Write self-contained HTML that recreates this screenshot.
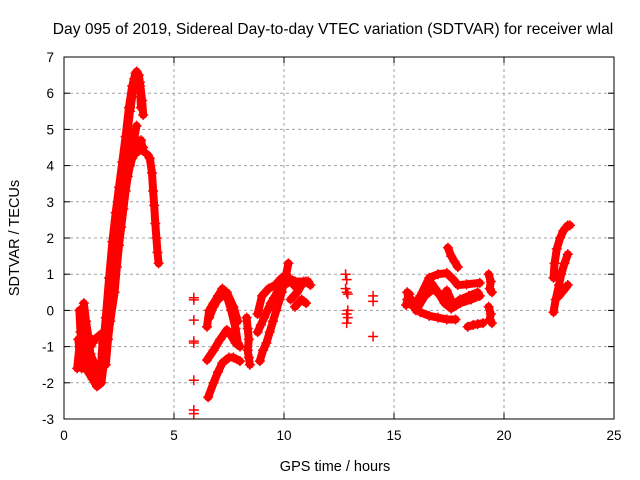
<!DOCTYPE html>
<html><head><meta charset="utf-8"><style>
body{margin:0;background:#fff}
svg{display:block;font-family:"Liberation Sans",sans-serif}
</style></head><body>
<svg id="chart" width="640" height="480">
<text x="333" y="34" text-anchor="middle" font-size="15.6">Day 095 of 2019, Sidereal Day-to-day VTEC variation (SDTVAR) for receiver wlal</text>
<text x="335" y="471" text-anchor="middle" font-size="14.5">GPS time / hours</text>
<text transform="translate(19,238) rotate(-90)" text-anchor="middle" font-size="14.5">SDTVAR / TECUs</text>
<g id="grid"></g>
<g id="ticks"></g>
<g id="marks"></g>
<rect x="64" y="57" width="550" height="362" fill="none" stroke="#000" stroke-width="1"/>
</svg>
<script>
const xTicks=[0,5,10,15,20,25];
const yTicks=[-3,-2,-1,0,1,2,3,4,5,6,7];
// tracks: [hour, value]
const trackA1=[[0.7,0.0],[0.75,-0.6],[0.8,-1.2],[0.9,-1.5],[1.1,-1.7],[1.3,-1.9],[1.5,-2.1],[1.7,-2.0],[1.8,-1.5],[1.9,-0.8]];
const trackA2=[[0.6,-1.6],[0.7,-1.0],[0.8,-1.6],[1.0,-1.4],[1.2,-1.0],[1.4,-0.8],[1.6,-0.7],[1.8,-0.6]];
const trackA3=[[0.9,0.2],[1.0,-0.3],[1.1,-0.7],[1.2,-1.2],[1.4,-1.5]];
const trackA4=[[0.65,-0.8],[0.75,-1.3],[0.9,-1.0],[1.1,-1.3],[1.3,-1.6],[1.5,-1.7],[1.7,-1.4],[1.75,-0.9]];
const trackR1=[[1.6,-1.8],[1.8,-1.0],[2.0,0.0],[2.15,1.0],[2.3,2.0],[2.45,2.8],[2.6,3.5],[2.75,4.3],[2.9,5.0],[3.0,5.6],[3.1,6.0],[3.2,6.4],[3.3,6.6],[3.4,6.5],[3.45,6.3],[3.55,5.8],[3.6,5.4]];
const trackR2=[[1.9,-1.5],[2.0,-0.8],[2.1,-0.3],[2.3,0.5],[2.4,1.2],[2.5,1.8],[2.6,2.3],[2.7,2.8],[2.8,3.3],[2.9,3.7],[3.0,4.0],[3.1,4.2],[3.3,4.4],[3.5,4.7],[3.6,4.4]];
const trackR3=[[2.0,0.0],[2.1,0.8],[2.2,1.5],[2.3,2.0],[2.4,2.5],[2.5,2.9],[2.6,3.3],[2.7,3.9],[2.8,4.4],[2.9,5.0],[3.0,5.5],[3.1,5.9]];
const trackR4=[[2.8,3.6],[2.95,4.0],[3.1,4.4],[3.2,4.8],[3.3,5.1]];
const trackR5=[[1.75,-1.2],[1.9,-0.2],[2.05,0.9],[2.2,1.9],[2.35,2.7],[2.5,3.4],[2.65,4.1],[2.8,4.8],[2.95,5.6],[3.1,6.2],[3.25,6.55],[3.45,6.2],[3.5,5.6]];
const trackR6=[[2.1,0.2],[2.25,0.9],[2.4,1.6],[2.55,2.4],[2.7,3.1],[2.85,3.8],[3.0,4.3],[3.2,4.6],[3.4,4.4],[3.6,4.5]];
const trackB=[[3.8,4.3],[3.9,4.2],[4.0,3.8],[4.05,3.3],[4.1,2.9],[4.15,2.4],[4.2,2.0],[4.25,1.6],[4.3,1.3]];
const trackM1=[[6.55,-2.4],[6.8,-2.0],[7.0,-1.7],[7.2,-1.45],[7.5,-1.3],[7.7,-1.3],[8.0,-1.4]];
const trackM2=[[6.5,-1.37],[6.8,-1.1],[7.1,-0.8],[7.4,-0.54],[7.6,-0.7],[7.8,-0.9],[8.0,-1.0]];
const trackM3=[[6.5,-0.45],[6.6,0.0],[6.8,0.2],[7.0,0.4],[7.2,0.6],[7.4,0.4],[7.6,0.0],[7.8,-0.5],[7.9,-0.9]];
const trackM3b=[[6.6,-0.2],[6.8,0.1],[7.0,0.3],[7.4,0.5],[7.7,0.1],[7.9,-0.3]];
const trackM8=[[8.3,-0.2],[8.35,-0.5],[8.4,-0.8],[8.35,-1.1],[8.4,-1.3],[8.45,-1.5]];
const trackM4=[[8.9,-1.4],[9.05,-1.1],[9.2,-0.9],[9.35,-0.6],[9.5,-0.3],[9.65,0.0],[9.8,0.3],[9.9,0.5],[10.0,0.8],[10.1,1.0],[10.2,1.3]];
const trackM5=[[8.8,-0.6],[8.95,-0.4],[9.1,-0.2],[9.25,0.0],[9.4,0.2],[9.55,0.35],[9.7,0.5],[9.85,0.6],[10.0,0.7],[10.3,0.8],[10.6,0.6]];
const trackM6=[[8.8,-0.1],[9.0,0.4],[9.3,0.6],[9.6,0.7],[9.9,0.9],[10.2,0.9],[10.5,0.8],[10.9,0.8],[11.1,0.8]];
const trackM7=[[10.3,0.3],[10.6,0.5],[10.8,0.7],[11.0,0.8],[11.2,0.7]];
const trackM9=[[10.5,0.1],[10.8,0.3],[11.0,0.2]];
const trackP1=[[15.6,0.5],[15.7,0.2],[15.9,0.1],[16.2,0.4],[16.6,0.9],[17.0,1.0],[17.4,1.03],[17.7,0.85],[17.9,0.7],[18.3,0.72],[18.9,0.76]];
const trackP2=[[15.8,0.3],[16.0,0.05],[16.2,-0.05],[16.6,-0.15],[17.0,-0.2],[17.4,-0.25],[17.8,-0.25]];
const trackP3=[[16.0,0.0],[16.4,0.4],[16.8,0.6],[17.2,0.35],[17.4,0.55],[17.7,0.15],[18.0,0.3],[18.4,0.4],[18.8,0.5]];
const trackP4=[[15.9,0.1],[16.3,0.5],[16.7,0.75],[17.0,0.5],[17.3,0.2],[17.6,0.05],[18.0,0.2],[18.5,0.3],[18.9,0.4]];
const trackP5=[[17.45,1.73],[17.6,1.5],[17.75,1.35],[17.9,1.2]];
const trackP6=[[18.35,-0.45],[18.6,-0.4],[18.8,-0.38],[19.05,-0.35]];
const trackP7=[[19.3,1.0],[19.4,0.8],[19.35,0.6],[19.45,0.5]];
const trackP8=[[19.3,0.1],[19.4,-0.1],[19.35,-0.25],[19.45,-0.35]];
const trackT1=[[22.25,0.9],[22.3,1.3],[22.4,1.7],[22.55,2.0],[22.7,2.2],[22.9,2.35],[23.0,2.35]];
const trackT2=[[22.25,-0.05],[22.35,0.3],[22.5,0.7],[22.6,1.0],[22.75,1.3],[22.9,1.55]];
const trackT3=[[22.5,0.4],[22.7,0.55],[22.9,0.7]];
const blob16=[[15.6,0.3],[15.7,0.45],[15.55,0.15],[15.8,0.25]];
// isolated points
const isolated=[[5.9,0.29],[5.9,0.35],[5.9,-0.27],[5.9,-0.9],[5.9,-0.85],[5.9,-1.93],[5.9,-2.75],[5.9,-2.85],
 [12.8,1.0],[12.85,0.85],[12.8,0.6],[12.9,0.45],[12.85,0.5],[12.85,-0.1],[12.9,-0.2],[12.85,-0.35],[12.9,0.0],
 [14.05,0.4],[14.05,0.25],[14.05,-0.72]];
const tracks=[trackA1,trackA2,trackA3,trackA4,trackR1,trackR2,trackR3,trackR4,trackR5,trackR6,trackB,trackM1,trackM2,trackM3,trackM3b,trackM8,trackM4,trackM5,trackM6,trackM7,trackM9,trackP1,trackP2,trackP3,trackP4,trackP5,trackP6,trackP7,trackP8,trackT1,trackT2,trackT3,blob16];

const NS="http://www.w3.org/2000/svg";
const X0=64,X1=614,Y0=419,Y1=57;
const xs=h=>X0+(h-0)/(25-0)*(X1-X0);
const ys=v=>Y0-(v+3)/(7+3)*(Y0-Y1);
function mk(t,a,p){const e=document.createElementNS(NS,t);for(const k in a)e.setAttribute(k,a[k]);p.appendChild(e);return e;}
const grid=document.getElementById('grid'),ticks=document.getElementById('ticks'),marks=document.getElementById('marks');
xTicks.forEach(t=>{const x=xs(t);
 if(t>0&&t<25){const l=mk('line',{x1:x,y1:Y1,x2:x,y2:Y0,stroke:'#a0a0a0','stroke-dasharray':'3,3'},grid);
 
 }
 mk('line',{x1:x,y1:Y0,x2:x,y2:Y0-6,stroke:'#000'},ticks);mk('line',{x1:x,y1:Y1,x2:x,y2:Y1+6,stroke:'#000'},ticks);
 const tx=mk('text',{x:x,y:Y0+21,'text-anchor':'middle','font-size':'13.5'},ticks);tx.textContent=t;
 
 });
yTicks.forEach(t=>{const y=ys(t);
 if(t>-3&&t<7){const l=mk('line',{x1:X0,y1:y,x2:X1,y2:y,stroke:'#a0a0a0','stroke-dasharray':'3,3'},grid);
 
 }
 mk('line',{x1:X0,y1:y,x2:X0+6,y2:y,stroke:'#000'},ticks);mk('line',{x1:X1,y1:y,x2:X1-6,y2:y,stroke:'#000'},ticks);
 const tx=mk('text',{x:X0-10,y:y+5,'text-anchor':'end','font-size':'13.5'},ticks);tx.textContent=t;
 
 });
function plus(h,v){const x=xs(h),y=ys(v);
 const p=mk('path',{d:`M${x-5},${y}H${x+5}M${x},${y-5}V${y+5}`,stroke:'#f00','stroke-width':1.5,fill:'none'},marks);
 
 }
tracks.forEach(tr=>{
 const pl=mk('polyline',{points:tr.map(p=>xs(p[0])+','+ys(p[1])).join(' '),stroke:'#f00','stroke-width':8,fill:'none','stroke-linejoin':'round','stroke-linecap':'round'},marks);
 
 
 tr.forEach(p=>plus(p[0],p[1]));});
isolated.forEach(p=>plus(p[0],p[1]));
</script>
</body></html>
